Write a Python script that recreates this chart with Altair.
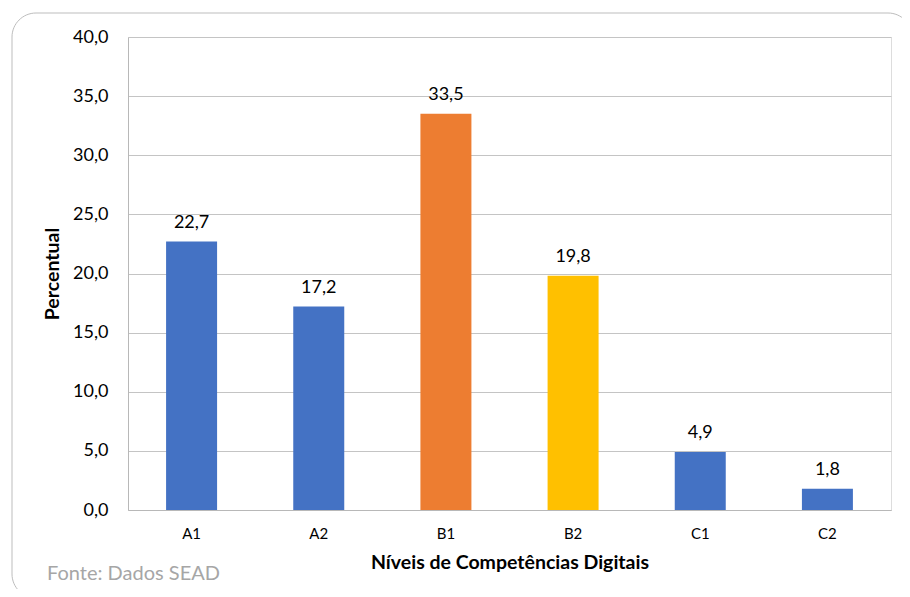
import altair as alt
import pandas as pd

categories = ["A1", "A2", "B1", "B2", "C1", "C2"]
values = [22.7, 17.2, 33.5, 19.8, 4.9, 1.8]
colors = ["#4472C4", "#4472C4", "#ED7D31", "#FFC000", "#4472C4", "#4472C4"]
y_ticks = [0, 5, 10, 15, 20, 25, 30, 35, 40]
source_note = "Fonte: Dados SEAD"

df = pd.DataFrame({"cat": categories, "val": values, "color": colors})
df["label"] = [f"{v:.1f}".replace(".", ",") for v in values]

FONT = "Lato"
W, H = 763, 473

x_enc = alt.X(
    "cat:N",
    sort=categories,
    scale=alt.Scale(paddingInner=0, paddingOuter=0),
    axis=alt.Axis(
        title="Níveis de Competências Digitais",
        titleFont=FONT, titleFontSize=19.5, titleFontWeight="bold", titleColor="#000000",
        titlePadding=12,
        labelFont=FONT, labelFontSize=15, labelColor="#000000", labelAngle=0,
        labelPadding=16, ticks=False,
        domainColor="#b8b8b8", domainWidth=1,
    ),
)
y_scale = alt.Scale(domain=[0, 40], nice=False)
y_axis = alt.Axis(
    title="Percentual",
    titleFont=FONT, titleFontSize=19.5, titleFontWeight="bold", titleColor="#000000",
    titlePadding=10,
    values=y_ticks,
    labelExpr="replace(format(datum.value, '.1f'), '.', ',')",
    labelFont=FONT, labelFontSize=18, labelColor="#000000", labelPadding=20,
    ticks=False,
    grid=True, gridColor="#c4c4c4", gridWidth=1,
    domainColor="#b8b8b8", domainWidth=1,
)

base = alt.Chart(df)

bars = base.mark_bar(size=51).encode(
    x=x_enc,
    y=alt.Y("val:Q", scale=y_scale, axis=y_axis),
    color=alt.Color("color:N", scale=None),
)

labels = base.mark_text(
    font=FONT, fontSize=18, color="#000000", baseline="alphabetic", dy=-14
).encode(
    x=alt.X("cat:N", sort=categories),
    y=alt.Y("val:Q"),
    text="label:N",
)

one = alt.Data(values=[{"note": source_note}])

border = alt.Chart(one).mark_rect(
    fill=None, stroke="#bdbdbd", strokeWidth=1, cornerRadius=24
).encode(
    x=alt.value(-116), x2=alt.value(784),
    y=alt.value(-24), y2=alt.value(561),
)

note = alt.Chart(one).mark_text(
    font=FONT, fontSize=20, color="#a6a6a6", align="left", baseline="middle"
).encode(
    x=alt.value(-81), y=alt.value(537),
    text="note:N",
)

chart = alt.layer(border, bars, labels, note).properties(
    width=W, height=H,
    autosize=alt.AutoSizeParams(type="none"),
    padding={"left": 120, "top": 29, "right": 11, "bottom": 79},
).configure_view(stroke=None).configure(background="#ffffff")

chart.save("out.html", embed_options={"renderer": "svg", "actions": False})
